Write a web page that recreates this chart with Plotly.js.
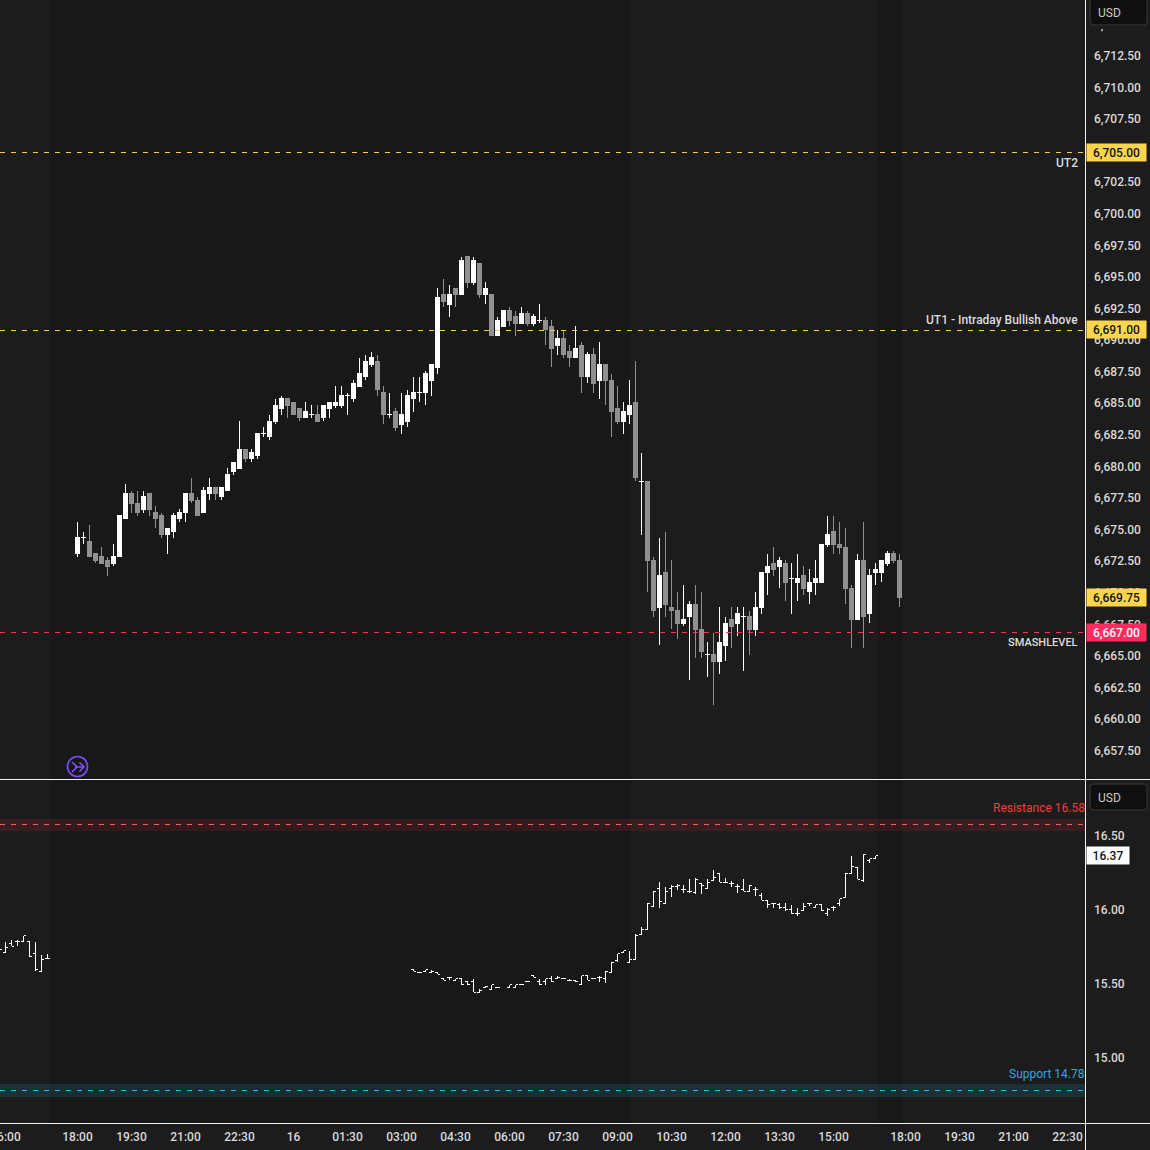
<!DOCTYPE html>
<html><head><meta charset="utf-8">
<script src="https://cdn.plot.ly/plotly-3.0.1.min.js"></script>
<style>html,body{margin:0;padding:0;background:#1c1c1c;overflow:hidden}#c{width:1150px;height:1150px}</style>
</head><body><div id="c"></div>
<script>
// 10-minute ES candles, one per bar index (0 = 18:00)
var candleOpen=[6673.25,6674.5,6674.25,6673.25,6673,6672.75,6672.5,6673,6676,6678,6677.25,6676.75,6678,6676.5,6676.25,6674.75,6675,6676,6676.5,6678,6677.5,6676.5,6678,6678.5,6677.75,6678.25,6679.75,6680,6681.5,6680.75,6681,6682.75,6682.5,6683.75,6684.75,6685.5,6685.25,6684.75,6684,6684.25,6684.25,6684,6684.75,6685,6685,6685.75,6685.5,6686.5,6687.25,6688.25,6688.5,6686,6684.25,6684.5,6683.5,6683.75,6685.5,6686,6686,6687,6688,6693.75,6693,6694.25,6693.75,6696.75,6694.75,6696.25,6693.75,6693.75,6690.5,6691.25,6692.5,6692,6691.5,6692.25,6691.5,6691.75,6691.75,6691.25,6689.75,6690.25,6689.25,6688.75,6689.75,6687.25,6689,6687,6688.25,6687,6684.75,6683.75,6684.25,6685.25,6679,6679,6672.75,6669,6671.75,6669,6668.75,6667.75,6668.25,6669.25,6667.25,6665.25,6665.25,6664.75,6666,6668,6667.75,6668.25,6668.25,6667.25,6669,6671.75,6672.5,6672.25,6672.5,6671.25,6671,6671.5,6670.25,6671,6671,6674,6675,6674,6673.75,6670.5,6668,6672.75,6668.5,6671.75,6671.75,6672.5,6673.25,6672.75];
var candleHigh=[6675.75,6675,6675.5,6673.25,6673.75,6673,6674,6676.25,6678.75,6678.25,6678.25,6678.25,6678,6677,6676.5,6675.25,6676.5,6676.75,6678,6679.25,6677.75,6678.5,6679.25,6678.5,6678.5,6680,6680.5,6683.75,6681.5,6681.5,6682.75,6683.25,6684.25,6685.5,6685.75,6685.5,6685.25,6684.75,6685.25,6685,6685,6685,6685.25,6686.5,6686.5,6686,6687,6688.75,6689,6689.25,6689,6686.5,6686,6684.75,6686,6686.25,6687.25,6687.25,6687.75,6688.25,6694.25,6695,6694.5,6694.25,6696.75,6696.75,6696.75,6696.25,6694.75,6693.75,6692,6692.5,6692.75,6692.5,6692.75,6692.5,6692.25,6693,6692,6691.75,6691,6691,6689.75,6691.25,6690,6689.25,6689.5,6690,6688.25,6687.5,6686.5,6685.25,6687,6688.5,6681.25,6679,6673,6674.5,6675,6672.75,6670.25,6670.75,6669.5,6670.75,6670.25,6666.25,6667,6669,6668.25,6669,6669,6669,6668.75,6670.25,6671.75,6673.25,6673.75,6673,6672.75,6672.5,6673.25,6672.25,6672,6672.75,6674,6676.25,6676.25,6675.75,6675.25,6670.75,6673.25,6675.75,6672,6672.5,6672.75,6673.5,6673.5,6673.25];
var candleLow=[6673,6674,6673,6672.5,6672.5,6671.5,6672.25,6673,6676,6676.5,6676.25,6676.5,6676.25,6675.25,6674.5,6673.25,6674.5,6675.75,6675.75,6677.25,6676.25,6676.5,6677.5,6677.5,6677.5,6678.25,6679.5,6680,6680.5,6680.5,6680.75,6682.5,6682.25,6683.5,6684.25,6684,6684.25,6683.75,6684,6684,6683.75,6683.75,6684,6684.75,6684.75,6684.25,6685.25,6686.5,6687,6688,6685.75,6683.5,6684,6683,6682.75,6683.25,6684.5,6685.25,6685,6685.75,6687.5,6692.75,6692,6692.75,6693.75,6694.25,6694.5,6693.5,6693,6690.5,6690.5,6691.25,6691.25,6690.5,6691.5,6691.25,6691.25,6691.5,6689.75,6688,6689,6688.75,6688,6688.75,6686,6686.75,6686,6685.5,6685,6682.5,6683.5,6682.75,6683.5,6679,6674.75,6670.25,6668.25,6666,6668.25,6667.25,6666.5,6667.5,6663.25,6665,6665,6663.5,6661.25,6663.75,6664.75,6665.75,6666.75,6664,6665.25,6666.75,6668.5,6670,6671.5,6670.5,6669.5,6668.5,6669.5,6670,6669.25,6670,6671,6673.75,6673.25,6673.25,6669.25,6665.75,6668,6665.75,6667.75,6670.75,6671,6672.25,6672.5,6669];
var candleClose=[6674.5,6674.5,6673,6672.75,6672.5,6672.25,6673,6676.25,6678,6677.25,6676.5,6677.75,6676.75,6676,6674.75,6675.25,6676.25,6676.5,6678,6677.5,6676.25,6678.25,6678.5,6678,6678.5,6679.5,6680.5,6681.5,6680.75,6681.25,6682.75,6682.75,6683.75,6685,6685.5,6685,6684.25,6684,6684.5,6684.25,6683.75,6685,6685.25,6685.25,6685.75,6685.75,6686.75,6687.5,6688.5,6688.75,6686.25,6684.25,6684.25,6683.25,6684.25,6685.75,6686,6686,6687.5,6688.25,6693.5,6693.25,6693.75,6693.75,6696.5,6694.75,6696.5,6693.75,6694.25,6690.5,6691.75,6692.5,6691.75,6691.5,6692.25,6691.5,6692,6691.75,6691,6689.5,6690.25,6689,6688.75,6689.5,6687.25,6689,6686.75,6688.25,6687,6684.5,6683.75,6684.5,6685,6679.25,6679,6672.75,6668.75,6671.5,6669.25,6668.75,6667.75,6668,6669.25,6667.25,6665.5,6665.25,6664.75,6666.25,6667.75,6667.5,6668.5,6668.25,6667.25,6669,6671.75,6672.25,6672,6672.75,6671,6671.25,6671.25,6670.5,6671,6671.25,6674,6674.75,6674,6673.75,6670.5,6668,6672.75,6668.25,6671.5,6672,6672.75,6673.25,6672.75,6669.75];
// VIX-style OHLC bars in the lower pane
var volIndex=[-13,-12,-11,-10,-9,-8,-7,-6,-5,56,57,58,59,60,61,62,63,64,65,66,67,68,69,70,72,73,74,75,76,77,78,79,80,81,82,83,84,85,86,87,88,89,90,91,92,93,94,95,96,97,98,99,100,101,102,103,104,105,106,107,108,109,110,111,112,113,114,115,116,117,118,119,120,121,122,123,124,125,126,127,128,129,130,131,132,133];
var volOpen=[15.74,15.72,15.78,15.79,15.79,15.79,15.71,15.59,15.68,15.60,15.58,15.59,15.58,15.58,15.54,15.55,15.53,15.54,15.52,15.52,15.45,15.48,15.47,15.48,15.48,15.48,15.50,15.52,15.56,15.52,15.52,15.54,15.54,15.54,15.53,15.53,15.50,15.56,15.54,15.55,15.54,15.58,15.66,15.72,15.65,15.67,15.84,15.87,16.03,16.15,16.05,16.15,16.16,16.14,16.13,16.12,16.18,16.15,16.20,16.25,16.19,16.18,16.16,16.14,16.13,16.14,16.10,16.07,16.05,16.04,16.02,16.01,15.98,16.00,16.05,16.02,16.04,15.98,16.02,16.05,16.09,16.25,16.29,16.20,16.34,16.35];
var volHigh=[15.74,15.79,15.80,15.80,15.83,15.79,15.79,15.70,15.71,15.60,15.58,15.60,15.60,15.58,15.54,15.55,15.54,15.54,15.52,15.54,15.47,15.49,15.50,15.48,15.50,15.50,15.50,15.52,15.56,15.54,15.54,15.56,15.56,15.54,15.54,15.53,15.56,15.56,15.54,15.56,15.59,15.65,15.71,15.73,15.73,15.84,15.89,16.05,16.13,16.19,16.16,16.17,16.18,16.17,16.21,16.22,16.18,16.21,16.27,16.25,16.22,16.20,16.18,16.21,16.17,16.16,16.12,16.07,16.05,16.05,16.05,16.04,16.02,16.05,16.05,16.04,16.04,16.02,16.03,16.08,16.25,16.37,16.29,16.38,16.35,16.37];
var volLow=[15.74,15.72,15.76,15.76,15.79,15.69,15.59,15.59,15.67,15.59,15.58,15.59,15.58,15.57,15.53,15.53,15.53,15.50,15.50,15.45,15.45,15.48,15.47,15.48,15.48,15.48,15.50,15.52,15.55,15.50,15.50,15.52,15.54,15.54,15.53,15.52,15.50,15.53,15.54,15.52,15.51,15.58,15.65,15.72,15.65,15.67,15.84,15.87,16.03,16.02,16.05,16.09,16.14,16.12,16.12,16.11,16.11,16.15,16.20,16.19,16.19,16.16,16.12,16.13,16.13,16.10,16.07,16.02,16.02,16.01,16.00,15.98,15.96,16.00,16.03,16.02,16.00,15.96,16.00,16.03,16.09,16.25,16.21,16.19,16.32,16.35];
var volClose=[15.74,15.75,15.76,15.79,15.83,15.69,15.60,15.67,15.68,15.59,15.58,15.60,15.59,15.57,15.53,15.55,15.54,15.50,15.50,15.45,15.46,15.49,15.50,15.48,15.50,15.50,15.50,15.52,15.55,15.50,15.54,15.52,15.55,15.54,15.53,15.52,15.56,15.53,15.54,15.55,15.59,15.65,15.71,15.73,15.67,15.83,15.87,16.05,16.13,16.06,16.13,16.16,16.17,16.14,16.13,16.21,16.17,16.19,16.22,16.19,16.19,16.18,16.16,16.13,16.17,16.14,16.07,16.04,16.05,16.02,16.01,15.98,15.98,16.03,16.05,16.04,16.00,16.01,16.02,16.08,16.25,16.30,16.21,16.38,16.35,16.37];
// Axis ticks
var timeTickIndex=[-12,0,9,18,27,36,45,54,63,72,81,90,99,108,117,126,138,147,156,165];
var timeTickText=['16:00','18:00','19:30','21:00','22:30','16','01:30','03:00','04:30','06:00','07:30','09:00','10:30','12:00','13:30','15:00','18:00','19:30','21:00','22:30'];
var priceTicks=[6657.5,6660,6662.5,6665,6667.5,6670,6672.5,6675,6677.5,6680,6682.5,6685,6687.5,6690,6692.5,6695,6697.5,6700,6702.5,6705,6707.5,6710,6712.5,6715];
var volTicks=[15,15.5,16,16.5];
// Levels
var levelValues=[6705,6691,6667];
var levelNames=['UT2','UT1 - Intraday Bullish Above','SMASHLEVEL'];
var levelColors=['#f5cb4a','#f5cb4a','#ff2d55'];
var levelBadgeColors=['#ffd54f','#ffd54f','#ff2d5f'];
var levelBadgeText=['#111111','#111111','#ffffff'];
var levelNameShift=[-10,10,-10];
var levelNameSize=[12,12,11];
var levelLineLift=[0,-0.95,0];
var lastPrice=6669.75, lastVol=16.37;
var resistance=16.58, support=14.78;
var resistanceBand=[16.534,16.614], supportBand=[14.744,14.832];
// Off-session spans in bar index units
var sessionStart=[-4.4,133.4], sessionEnd=[92.25,137.4];

var W=1150,H=1150, FONT='Roboto, Arial, sans-serif';
function px(x){return x/W} function py(y){return 1-y/H}
function pick(a,idx){return idx.map(function(i){return a[i]})}
var up=[],dn=[];
candleOpen.forEach(function(o,i){(candleClose[i]>=o?up:dn).push(i)});
function candle(idx,col){
  return {type:'candlestick',xaxis:'x',yaxis:'y',x:idx,open:pick(candleOpen,idx),high:pick(candleHigh,idx),low:pick(candleLow,idx),close:pick(candleClose,idx),
    whiskerwidth:0,hoverinfo:'skip',showlegend:false,
    increasing:{line:{color:col,width:1},fillcolor:col},decreasing:{line:{color:col,width:1},fillcolor:col}};
}
var traces=[candle(dn,'#909090'),candle(up,'#ffffff'),
 {type:'ohlc',xaxis:'x',yaxis:'y2',x:volIndex,open:volOpen,high:volHigh,low:volLow,close:volClose,tickwidth:0.36,hoverinfo:'skip',showlegend:false,
  increasing:{line:{color:'#ffffff',width:1}},decreasing:{line:{color:'#ffffff',width:1}}}];

var shapes=[];
sessionStart.forEach(function(s,i){shapes.push({type:'rect',layer:'below',xref:'x',yref:'paper',x0:s,x1:sessionEnd[i],y0:py(1123),y1:1,line:{width:0},fillcolor:'#181818'})});
levelValues.forEach(function(v,i){shapes.push({type:'line',xref:'paper',yref:'y',ysizemode:'pixel',yanchor:v,x0:0,x1:px(1085),y0:levelLineLift[i],y1:levelLineLift[i],line:{color:levelColors[i],width:1,dash:'5px,6px'}})});
shapes.push({type:'rect',xref:'paper',yref:'y2',x0:0,x1:px(1085),y0:resistanceBand[0],y1:resistanceBand[1],line:{width:0},fillcolor:'rgba(242,54,69,0.13)'});
shapes.push({type:'line',xref:'paper',yref:'y2',x0:0,x1:px(1085),y0:resistance,y1:resistance,line:{color:'#f0605a',width:1,dash:'5px,6px'}});
shapes.push({type:'rect',xref:'paper',yref:'y2',x0:0,x1:px(1085),y0:supportBand[0],y1:supportBand[1],line:{width:0},fillcolor:'rgba(41,182,246,0.13)'});
shapes.push({type:'line',xref:'paper',yref:'y2',ysizemode:'pixel',yanchor:support,x0:0,x1:px(1085),y0:0.9,y1:0.9,line:{color:'#29b6f6',width:1,dash:'5px,6px'}});
// pane frame
[779.5,1123.5].forEach(function(y){shapes.push({type:'line',xref:'paper',yref:'paper',x0:0,x1:1,y0:py(y),y1:py(y),line:{color:'#f0f0f0',width:1}})});
shapes.push({type:'line',xref:'paper',yref:'paper',x0:px(1085.5),x1:px(1085.5),y0:0,y1:1,line:{color:'#f0f0f0',width:1}});
// currency boxes
function pPath(x0,y0,x1,y1,r){
  function P(x,y){return px(x)+','+py(y)}
  return 'M'+P(x0+r,y0)+' L'+P(x1-r,y0)+' Q'+P(x1,y0)+' '+P(x1,y0+r)+' L'+P(x1,y1-r)+' Q'+P(x1,y1)+' '+P(x1-r,y1)+' L'+P(x0+r,y1)+' Q'+P(x0,y1)+' '+P(x0,y1-r)+' L'+P(x0,y0+r)+' Q'+P(x0,y0)+' '+P(x0+r,y0)+' Z';
}
shapes.push({type:'rect',xref:'paper',yref:'paper',x0:px(1086.5),x1:1,y0:py(28.5),y1:1,line:{width:0},fillcolor:'#1c1c1c'});
[[-2,25],[784,810]].forEach(function(b){shapes.push({type:'path',xref:'paper',yref:'paper',path:pPath(1090,b[0],1147,b[1],4),fillcolor:'#0f0f0f',line:{color:'#2e2e2e',width:1.5}})});
// marker icon
shapes.push({type:'circle',xref:'paper',yref:'paper',x0:px(67.5),x1:px(87.5),y0:py(776.5),y1:py(756.5),line:{color:'#7c4dff',width:1.6}});
function PP(x,y){return px(x)+','+py(y)}
shapes.push({type:'path',xref:'paper',yref:'paper',path:'M'+PP(72,762)+' L'+PP(77,767)+' L'+PP(72,772)+' M'+PP(75,767)+' L'+PP(84,767)+' M'+PP(79.5,762.5)+' L'+PP(84,767)+' L'+PP(79.5,771.5),line:{color:'#7c4dff',width:1.6}});

function badge(text,yref,y,bg,fg,w){
  return {xref:'paper',yref:yref,x:px(1086),xanchor:'left',y:y,yanchor:'middle',text:text,showarrow:false,bgcolor:bg,width:w,height:15,borderpad:1,align:'center',
    font:{family:FONT,size:12,color:fg,weight:500}};
}
var fmt=function(v){return v.toLocaleString('en-US',{minimumFractionDigits:2,maximumFractionDigits:2})};
var ann=[];
levelValues.forEach(function(v,i){
  ann.push(badge(fmt(v),'y',v,levelBadgeColors[i],levelBadgeText[i],57));
  ann.push({xref:'paper',yref:'y',x:px(1080),xanchor:'right',y:v,yanchor:'middle',yshift:levelNameShift[i],text:levelNames[i],showarrow:false,font:{family:FONT,size:levelNameSize[i],color:'#dddddd',weight:500}});
});
ann.push(badge(fmt(lastPrice),'y',lastPrice,'#ffd54f','#111111',57));
ann.push(badge(fmt(lastVol),'y2',lastVol,'#ffffff','#111111',40));
ann.push({xref:'paper',yref:'y2',x:px(1087),xanchor:'right',y:resistance,yanchor:'middle',yshift:16.5,text:'Resistance '+resistance.toFixed(2),showarrow:false,font:{family:FONT,size:12,color:'#f23c35'}});
ann.push({xref:'paper',yref:'y2',x:px(1087),xanchor:'right',y:support,yanchor:'middle',yshift:17.5,text:'Support '+support.toFixed(2),showarrow:false,font:{family:FONT,size:12,color:'#2fa8e0'}});
ann.push({xref:'paper',yref:'paper',x:px(1096),xanchor:'left',y:py(12.5),yanchor:'middle',text:'USD',showarrow:false,font:{family:FONT,size:12,color:'#c8c8c8'}});
ann.push({xref:'paper',yref:'paper',x:px(1096),xanchor:'left',y:py(797.5),yanchor:'middle',text:'USD',showarrow:false,font:{family:FONT,size:12,color:'#c8c8c8'}});

var layout={width:W,height:H,margin:{l:0,r:0,t:0,b:0,pad:0},paper_bgcolor:'#1c1c1c',plot_bgcolor:'rgba(0,0,0,0)',showlegend:false,dragmode:false,boxgap:0.33,boxgroupgap:0,boxmode:'overlay',
 font:{family:FONT,color:'#d9d9d9'},
 xaxis:{domain:[0,px(1085)],anchor:'y2',type:'linear',range:[-12.917,167.917],rangeslider:{visible:false},showgrid:false,zeroline:false,showline:false,ticks:'',tickmode:'array',tickvals:timeTickIndex,ticktext:timeTickText,tickangle:0,ticklabeloverflow:'allow',
   tickfont:{family:FONT,size:12,color:'#d9d9d9',weight:500},ticklabelstandoff:5},
 yaxis:{domain:[1-779/H,1],anchor:'x',side:'right',range:[6655.41,6717.09],showgrid:false,zeroline:false,showline:false,ticks:'',tickmode:'array',tickvals:priceTicks,tickformat:',.2f',tickfont:{family:FONT,size:12,color:'#d9d9d9',weight:500},ticklabelstandoff:8,ticklabelshift:-2},
 yaxis2:{domain:[1-1123/H,1-780/H],anchor:'x',side:'right',range:[14.5676,16.88],showgrid:false,zeroline:false,showline:false,ticks:'',tickmode:'array',tickvals:volTicks,tickformat:'.2f',tickfont:{family:FONT,size:12,color:'#d9d9d9',weight:500},ticklabelstandoff:8,ticklabelshift:-1},
 shapes:shapes,annotations:ann};
Plotly.newPlot('c',traces,layout,{displayModeBar:false,staticPlot:true}).then(function(){
  // keep hairlines sharp, leave rounded marks smooth
  document.querySelectorAll('.shapelayer path').forEach(function(p){
    var d=p.getAttribute('d')||'', s=p.style.stroke||'';
    if(d.indexOf('Q')<0 && d.indexOf('A')<0 && s.indexOf('124')<0) p.style.shapeRendering='crispEdges';
  });
  document.querySelectorAll('.boxes path, .ohlc path').forEach(function(p){p.style.shapeRendering='crispEdges'});
});
</script></body></html>
